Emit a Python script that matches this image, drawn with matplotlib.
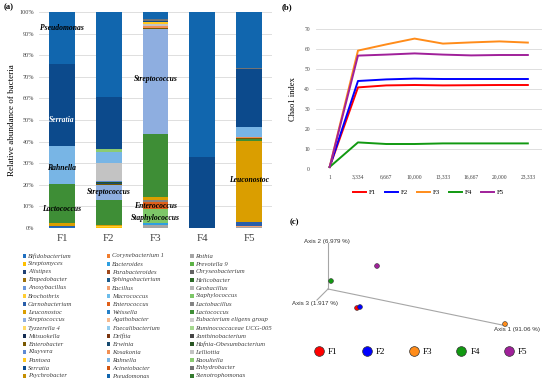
import matplotlib
matplotlib.use('Agg')
import matplotlib.pyplot as plt
from matplotlib.patches import Rectangle
from matplotlib.lines import Line2D
import numpy as np

# ---------------- data ----------------
samples = ['F1', 'F2', 'F3', 'F4', 'F5']

genera = ['Bifidobacterium', 'Corynebacterium 1', 'Rothia', 'Streptomyces', 'Bacteroides',
          'Prevotella 9', 'Alistipes', 'Parabacteroides', 'Chryseobacterium', 'Empedobacter',
          'Sphingobacterium', 'Helicobacter', 'Anoxybacillus', 'Bacillus', 'Geobacillus',
          'Brochothrix', 'Macrococcus', 'Staphylococcus', 'Carnobacterium', 'Enterococcus',
          'Lactobacillus', 'Leuconostoc', 'Weissella', 'Lactococcus', 'Streptococcus',
          'Agathobacter', 'Eubacterium eligens group', 'Tyzzerella 4', 'Faecalibacterium',
          'Ruminococcaceae UCG-005', 'Mitsuokella', 'Delftia', 'Janthinobacterium',
          'Enterobacter', 'Erwinia', 'Hafnia-Obesumbacterium', 'Kluyvera', 'Kosakonia',
          'Lelliottia', 'Pantoea', 'Rahnella', 'Raoultella', 'Serratia', 'Acinetobacter',
          'Enhydrobacter', 'Psychrobacter', 'Pseudomonas', 'Stenotrophomonas']

abund_F1 = {'Bifidobacterium': 0.6, 'Carnobacterium': 0.4, 'Leuconostoc': 1.3,
            'Lactococcus': 18.0, 'Streptococcus': 0.3, 'Rahnella': 17.3,
            'Serratia': 37.8, 'Pseudomonas': 24.3}
abund_F2 = {'Streptomyces': 0.4, 'Brochothrix': 0.3, 'Leuconostoc': 0.6, 'Lactococcus': 11.6,
            'Streptococcus': 7.0, 'Enterobacter': 0.5, 'Erwinia': 0.3,
            'Hafnia-Obesumbacterium': 0.8, 'Kluyvera': 0.4, 'Lelliottia': 8.0,
            'Rahnella': 5.4, 'Raoultella': 1.1, 'Serratia': 24.3, 'Pseudomonas': 39.3}
abund_F3 = {'Rothia': 1.2, 'Bacteroides': 1.3, 'Staphylococcus': 6.5, 'Enterococcus': 3.0,
            'Lactobacillus': 0.8, 'Leuconostoc': 1.4, 'Lactococcus': 29.3,
            'Streptococcus': 48.4, 'Enterobacter': 0.9, 'Kosakonia': 0.5, 'Lelliottia': 1.3,
            'Pantoea': 0.6, 'Serratia': 0.5, 'Enhydrobacter': 1.1, 'Pseudomonas': 3.2}
abund_F4 = {'Serratia': 32.7, 'Pseudomonas': 67.3}
abund_F5 = {'Rothia': 0.4, 'Bacillus': 0.5, 'Carnobacterium': 1.8, 'Leuconostoc': 37.4,
            'Lactococcus': 1.0, 'Enterobacter': 0.5, 'Kosakonia': 0.6, 'Rahnella': 4.6,
            'Serratia': 26.7, 'Enhydrobacter': 0.5, 'Pseudomonas': 26.0}
abundances = [abund_F1, abund_F2, abund_F3, abund_F4, abund_F5]

# labelled genera inside bars: (text, sample index, height %)
bar_labels = [('Pseudomonas', 0, 92.8), ('Serratia', 0, 50.0), ('Rahnella', 0, 27.6),
              ('Lactococcus', 0, 8.9), ('Streptococcus', 1, 16.6), ('Streptococcus', 2, 69.2),
              ('Enterococcus', 2, 10.2), ('Staphylococcus', 2, 4.5), ('Leuconostoc', 4, 22.2)]

seq_depth = ['1', '3,334', '6,667', '10,000', '13,333', '16,667', '20,000', '23,333']
chao1_F1 = [1, 40.8, 41.8, 42.0, 41.8, 41.9, 42.0, 42.0]
chao1_F2 = [1, 44.0, 44.8, 45.2, 45.0, 45.0, 45.0, 45.0]
chao1_F3 = [1, 59.2, 62.3, 65.2, 62.7, 63.3, 63.8, 63.2]
chao1_F4 = [1, 13.3, 12.5, 12.5, 12.8, 12.8, 12.8, 12.8]
chao1_F5 = [1, 56.7, 57.2, 57.8, 57.2, 56.8, 57.0, 57.0]
chao1 = [chao1_F1, chao1_F2, chao1_F3, chao1_F4, chao1_F5]

pcoa_axis1 = [29, 32, 177, 3, 49]
pcoa_axis2 = [-19, -18, -35, 8, 23]
axis_names = ['Axis 1 (91.06 %)', 'Axis 2 (6.979 %)', 'Axis 3 (1.917 %)']

# ---------------- styles ----------------
genus_colors = ['#1F6FC0', '#F07D2E', '#A5A5A5', '#FFC000', '#2E9FE0', '#5CB346',
                '#1F3F73', '#A0481A', '#636363', '#9C700A', '#1C5D8E', '#2F6B2A',
                '#6A96DA', '#F4A070', '#B7B7B7', '#FFCD33', '#6CBCEA', '#7DC768',
                '#2A5EAA', '#E0601A', '#848484', '#DA9E00', '#2580C8', '#3E8E36',
                '#8EAEE0', '#F6B88C', '#CDCDCD', '#FFD966', '#92CCEE', '#A4D88E',
                '#132B52', '#7A3510', '#464646', '#7A5800', '#174A70', '#285422',
                '#5E8AD4', '#F28F52', '#C3C3C3', '#FFC71F', '#78B5E5', '#8BCB72',
                '#0C4A8C', '#D2540E', '#737373', '#C48E00', '#1166AE', '#347A2E']
sample_colors = ['#FF0000', '#0000FF', '#FF8C1A', '#119911', '#A0209A']

W, H = 550, 383
def fx(x): return x / W
def fy(y): return 1 - y / H

SERIF = 'Liberation Serif'
SANS = 'Liberation Sans'
GRID = '#D9D9D9'
TXT = '#404040'

fig = plt.figure(figsize=(5.5, 3.83), dpi=100)

# ---------------- panel (a) ----------------
axa = fig.add_axes([fx(38.6), fy(228), (272.4 - 38.6) / W, (228 - 12) / H])
xpos = np.arange(len(samples))
bottom = np.zeros(len(samples))
for g, col in zip(genera, genus_colors):
    vals = np.array([ab.get(g, 0.0) for ab in abundances])
    axa.bar(xpos, vals, 0.556, bottom=bottom, color=col, linewidth=0, zorder=2)
    bottom += vals
axa.set_xlim(-0.5, 4.5)
axa.set_ylim(0, 100)
axa.set_yticks(np.arange(0, 101, 10))
axa.set_yticklabels([f'{v}%' for v in range(0, 101, 10)], fontsize=4.4, family=SERIF, color=TXT)
axa.set_xticks(xpos)
axa.set_xticklabels(samples, fontsize=7.8, family=SERIF, color=TXT)
axa.tick_params(length=0, pad=3)
axa.tick_params(axis='x', pad=4)
axa.grid(axis='y', color=GRID, lw=0.6, zorder=0)
axa.set_axisbelow(True)
for s in axa.spines.values():
    s.set_visible(False)
axa.set_ylabel('Relative abundance of bacteria', fontsize=6.5, family=SERIF, labelpad=3)
for txt, si, yv in bar_labels:
    axa.text(si, yv, txt, ha='center', va='center', fontsize=5.5, family=SERIF,
             style='italic', weight='bold', color='white' if txt == 'Serratia' else 'black',
             zorder=5)
fig.text(fx(4), fy(7), '(a)', fontsize=6.2, family=SERIF, weight='bold', va='center')

# legend (a), laid out row-wise like the original
col_x = [24.5, 108.6, 192.0]
for i, (g, col) in enumerate(zip(genera, genus_colors)):
    r, c = divmod(i, 3)
    xm, ym = col_x[c], 256 + 8 * r
    fig.patches.append(Rectangle((fx(xm - 1.6), fy(ym + 1.6)), 3.2 / W, 3.2 / H,
                                 transform=fig.transFigure, color=col, lw=0))
    fig.text(fx(xm + 3.5), fy(ym), g, fontsize=4.8, family=SERIF, style='italic',
             va='center', ha='left', color=TXT)

# ---------------- panel (b) ----------------
axb = fig.add_axes([fx(315.5), fy(169), (542 - 315.5) / W, (169 - 29) / H])
xb = np.arange(len(seq_depth))
for s, vals, col in zip(samples, chao1, sample_colors):
    axb.plot(xb, vals, color=col, lw=1.4, label=s, zorder=3)
axb.set_xlim(-0.5, len(seq_depth) - 0.5)
axb.set_ylim(0, 70)
axb.set_yticks(np.arange(0, 71, 10))
axb.set_xticks(xb)
axb.set_xticklabels(seq_depth, fontsize=4.0, family=SERIF, color=TXT)
axb.tick_params(axis='y', labelsize=4.0, labelcolor=TXT, length=0, pad=4)
axb.tick_params(axis='x', length=0, pad=4)
for lab in axb.get_yticklabels():
    lab.set_family(SERIF)
axb.grid(axis='y', color=GRID, lw=0.6, zorder=0)
for s in axb.spines.values():
    s.set_visible(False)
axb.set_ylabel('Chao1 index', fontsize=6.2, family=SERIF, labelpad=5)
axb.legend(ncol=5, loc='center', bbox_to_anchor=(fx(428.5), fy(192)),
           bbox_transform=fig.transFigure, frameon=False,
           prop={'family': SERIF, 'size': 5}, handlelength=1.9, handletextpad=0.4,
           columnspacing=1.24)
fig.text(fx(282), fy(7), '(b)', fontsize=6.2, family=SERIF, weight='bold', va='center')

# ---------------- panel (c) ----------------
axc = fig.add_axes([fx(290), fy(340), 260 / W, 110 / H])
axc.set_xlim(-38, 222)
axc.set_ylim(-51, 59)
axc.axis('off')
AX = '#A6A6A6'
axc.plot([0, 179], [0, -37], color=AX, lw=0.8, zorder=1)
axc.plot([0, 0], [0, 46], color=AX, lw=0.8, zorder=1)
axc.plot([0, -11], [0, -11], color=AX, lw=0.8, zorder=1)
axc.text(189, -40, axis_names[0], fontsize=4.5, family=SANS, color='#333333',
         ha='center', va='center')
axc.text(-1, 47, axis_names[1], fontsize=4.5, family=SANS, color='#333333',
         ha='center', va='center')
axc.text(-13, -14, axis_names[2], fontsize=4.5, family=SANS, color='#333333',
         ha='center', va='center')
axc.scatter(pcoa_axis1, pcoa_axis2, s=12, c=sample_colors, edgecolors='#333333',
            linewidths=0.4, zorder=3)
handles = [Line2D([], [], ls='none', marker='o', markersize=7, markerfacecolor=c,
                  markeredgecolor='#333333', markeredgewidth=0.5) for c in sample_colors]
fig.legend(handles, samples, ncol=5, loc='center', bbox_to_anchor=(fx(421), fy(352)),
           frameon=False, prop={'family': SERIF, 'size': 6.5}, handlelength=1.0,
           handletextpad=0.5, columnspacing=2.7)
fig.text(fx(290), fy(222), '(c)', fontsize=6.2, family=SERIF, weight='bold', va='center')

fig.savefig('out.png', dpi=100)
